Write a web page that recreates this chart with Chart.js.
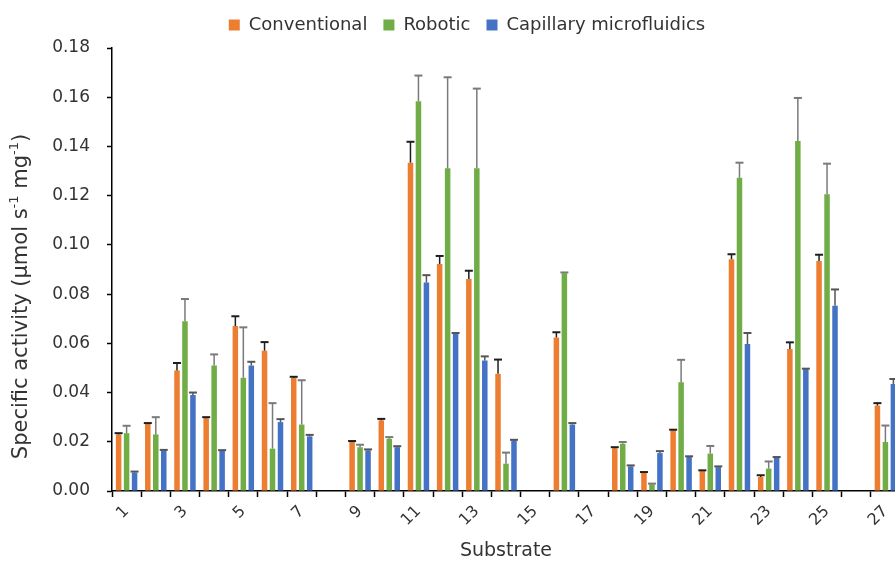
<!DOCTYPE html>
<html>
<head>
<meta charset="utf-8">
<title>Specific activity by substrate</title>
<script src="https://cdn.jsdelivr.net/npm/chart.js@4.4.1/dist/chart.umd.min.js"></script>
<style>
  html, body { margin: 0; padding: 0; background: #fff; overflow: hidden; }
  #wrap { width: 934px; height: 568px; position: relative; }
</style>
</head>
<body>
<div id="wrap"><canvas id="activity_chart"></canvas></div>
<script>
// substrates 1..27
var substrates = ['1','2','3','4','5','6','7','8','9','10','11','12','13','14','15','16','17','18','19','20','21','22','23','24','25','26','27'];

// specific activity, µmol s-1 mg-1
var conventional = [0.0230,0.0273,0.0490,0.0296,0.0670,0.0570,0.0460,null,0.0199,0.0287,0.1334,0.0922,0.0861,0.0476,null,0.0624,null,0.0174,0.0073,0.0246,0.0081,0.0942,0.0057,0.0577,0.0935,null,0.0347];
var robotic      = [0.0235,0.0230,0.0690,0.0510,0.0460,0.0172,0.0270,null,0.0178,0.0212,0.1584,0.1311,0.1311,0.0111,null,0.0885,null,0.0192,0.0027,0.0442,0.0152,0.1273,0.0091,0.1422,0.1206,null,0.0199];
var capillary    = [0.0075,0.0165,0.0390,0.0163,0.0510,0.0280,0.0222,null,0.0165,0.0178,0.0847,0.0638,0.0530,0.0206,null,0.0270,null,0.0100,0.0154,0.0138,0.0097,0.0597,0.0135,0.0495,0.0753,null,0.0435];

// upper error (SD)
var conventionalErr = [0.0005,0.0003,0.0030,0.0004,0.0040,0.0035,0.0004,null,0.0004,0.0006,0.0085,0.0033,0.0034,0.0058,null,0.0021,null,0.0004,0.0004,0.0003,0.0003,0.0020,0.0007,0.0027,0.0025,null,0.0010];
var roboticErr      = [0.0030,0.0070,0.0090,0.0045,0.0205,0.0185,0.0180,null,0.0010,0.0007,0.0104,0.0370,0.0324,0.0045,null,0.0003,null,0.0007,0.0003,0.0091,0.0031,0.0061,0.0029,0.0175,0.0124,null,0.0067];
var capillaryErr    = [0.0004,0.0002,0.0010,0.0003,0.0015,0.0012,0.0006,null,0.0004,0.0004,0.0030,0.0004,0.0017,0.0002,null,0.0006,null,0.0004,0.0008,0.0003,0.0003,0.0045,0.0003,0.0002,0.0066,null,0.0020];

var yTicks = [0, 0.02, 0.04, 0.06, 0.08, 0.10, 0.12, 0.14, 0.16, 0.18];

var FONT = '"DejaVu Sans", sans-serif';
var TEXT = '#333333';

// vertical error bars with caps, drawn on top of each bar
var errorBars = {
    id: 'errorBars',
    afterDatasetsDraw: function(chart) {
        var ctx = chart.ctx;
        var yScale = chart.scales.y;
        chart.data.datasets.forEach(function(ds, i) {
            var meta = chart.getDatasetMeta(i);
            if (meta.hidden) return;
            meta.data.forEach(function(bar, j) {
                var v = ds.data[j], e = ds.errors[j];
                if (v == null || !e) return;
                var top = yScale.getPixelForValue(v + e);
                var half = 4;
                ctx.save();
                ctx.strokeStyle = ds.errorColor;
                ctx.lineWidth = 1.5;
                ctx.beginPath();
                ctx.moveTo(bar.x, bar.y);
                ctx.lineTo(bar.x, top);
                ctx.stroke();
                ctx.lineWidth = 2;
                ctx.beginPath();
                ctx.moveTo(bar.x - half, top);
                ctx.lineTo(bar.x + half, top);
                ctx.stroke();
                ctx.restore();
            });
        });
    }
};

// y axis title with real superscripts
var yTitle = {
    id: 'yTitle',
    afterDraw: function(chart) {
        var ctx = chart.ctx;
        var area = chart.chartArea;
        var parts = [
            ['Specific activity (\u00b5mol s', false],
            ['-1', true],
            [' mg', false],
            ['-1', true],
            [')', false]
        ];
        var mainFont = '21px ' + FONT;
        var supFont = '13px ' + FONT;
        ctx.save();
        var total = 0;
        parts.forEach(function(p) {
            ctx.font = p[1] ? supFont : mainFont;
            p.push(ctx.measureText(p[0]).width);
            total += p[2];
        });
        ctx.translate(22, (area.top + area.bottom) / 2 + 27);
        ctx.rotate(-Math.PI / 2);
        ctx.fillStyle = TEXT;
        ctx.textAlign = 'left';
        ctx.textBaseline = 'middle';
        var x = -total / 2;
        parts.forEach(function(p) {
            ctx.font = p[1] ? supFont : mainFont;
            ctx.fillText(p[0], x, p[1] ? -7 : 0);
            x += p[2];
        });
        ctx.restore();
    }
};

// legend height tweak, and centre it on the whole canvas
var legendSpacing = {
    id: 'legendSpacing',
    beforeInit: function(chart) {
        var fit = chart.legend.fit;
        chart.legend.fit = function() {
            fit.call(this);
            this.height += 4;
        };
    },
    afterLayout: function(chart) {
        chart.legend.left = 0;
        chart.legend.right = chart.width;
    }
};

var ctx = document.getElementById('activity_chart').getContext('2d');
var activityChart = new Chart(ctx, {
    type: 'bar',
    data: {
        labels: substrates,
        datasets: [{
            label: 'Conventional',
            data: conventional,
            errors: conventionalErr,
            errorColor: '#1e1e1e',
            backgroundColor: '#ED7D31'
        }, {
            label: 'Robotic',
            data: robotic,
            errors: roboticErr,
            errorColor: '#7a7a7a',
            backgroundColor: '#70AD47'
        }, {
            label: 'Capillary microfluidics',
            data: capillary,
            errors: capillaryErr,
            errorColor: '#555555',
            backgroundColor: '#4472C4'
        }]
    },
    options: {
        responsive: true,
        maintainAspectRatio: false,
        animation: false,
        layout: { padding: { left: 4, right: 34, top: 0, bottom: 4 } },
        datasets: {
            bar: { categoryPercentage: 0.82, barPercentage: 0.69, borderWidth: 0 }
        },
        plugins: {
            legend: {
                position: 'top',
                labels: {
                    boxWidth: 11,
                    boxHeight: 11,
                    padding: 16,
                    color: TEXT,
                    font: { family: FONT, size: 18 }
                }
            },
            tooltip: { enabled: false }
        },
        scales: {
            x: {
                grid: {
                    display: true,
                    drawOnChartArea: false,
                    drawTicks: true,
                    tickLength: 6,
                    tickWidth: 1.5,
                    color: '#000',
                    offset: true
                },
                border: { color: '#000', width: 1.5 },
                ticks: {
                    autoSkip: false,
                    maxRotation: 45,
                    minRotation: 45,
                    color: TEXT,
                    padding: 5,
                    font: { family: FONT, size: 16 },
                    callback: function(val, idx) {
                        return idx % 2 === 0 ? substrates[idx] : '';
                    }
                },
                title: {
                    display: true,
                    text: 'Substrate',
                    color: TEXT,
                    padding: { top: 4, bottom: 2 },
                    font: { family: FONT, size: 19 }
                },
                afterFit: function(scale) { scale.height = 73; }
            },
            y: {
                min: 0,
                max: 0.18,
                afterBuildTicks: function(scale) {
                    scale.ticks = yTicks.map(function(v) { return { value: v }; });
                },
                grid: {
                    display: true,
                    drawOnChartArea: false,
                    drawTicks: true,
                    tickLength: 5,
                    tickWidth: 1.5,
                    color: '#000'
                },
                border: { color: '#000', width: 1.5 },
                ticks: {
                    color: TEXT,
                    padding: 17,
                    font: { family: FONT, size: 17 },
                    callback: function(val) { return Number(val).toFixed(2); }
                },
                title: { display: false },
                afterFit: function(scale) { scale.width = 108; }
            }
        }
    },
    plugins: [errorBars, yTitle, legendSpacing]
});
</script>
</body>
</html>
